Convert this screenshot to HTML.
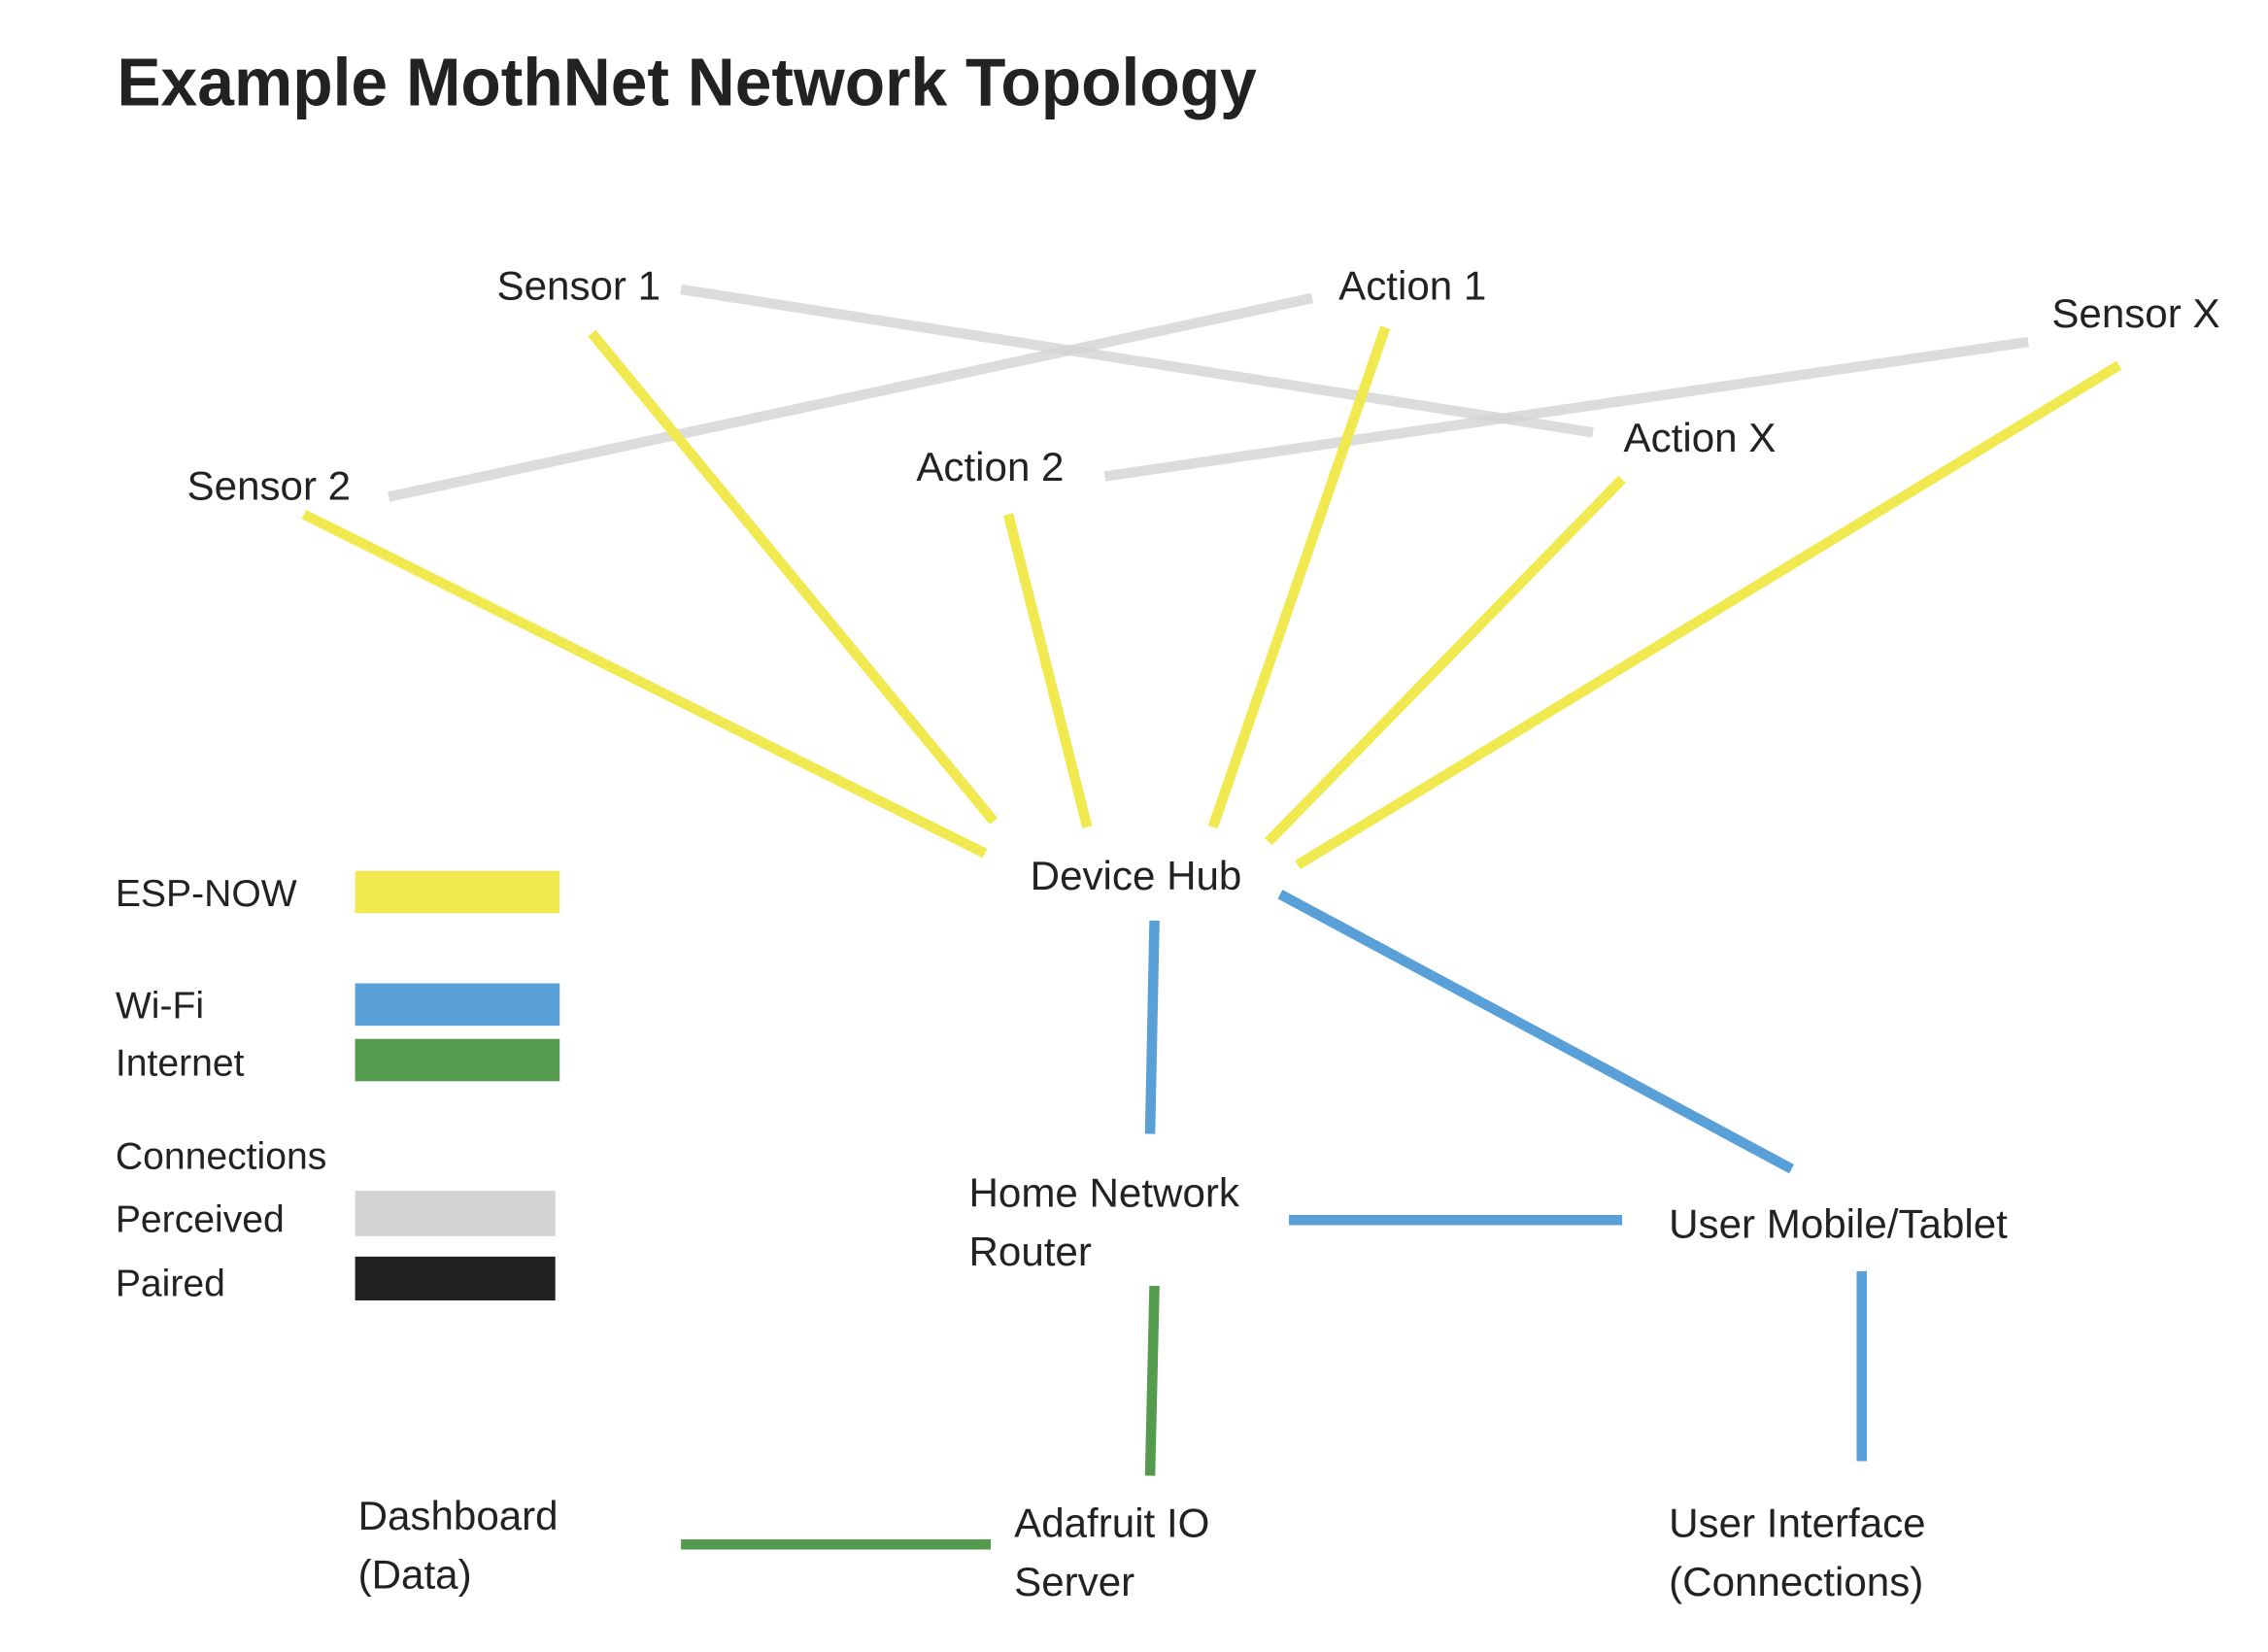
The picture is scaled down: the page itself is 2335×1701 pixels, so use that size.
<!DOCTYPE html>
<html><head><meta charset="utf-8"><style>html,body{margin:0;padding:0;background:#fff}svg{display:block}</style></head>
<body>
<svg width="2335" height="1701" viewBox="0 0 1552 1130.6" preserveAspectRatio="none" xmlns="http://www.w3.org/2000/svg" font-family="Liberation Sans, sans-serif">
<rect width="1552" height="1131" fill="#fff"/>
<text x="80" y="72" font-size="46" font-weight="bold" fill="#222" textLength="780" lengthAdjust="spacingAndGlyphs">Example MothNet Network Topology</text>
<g stroke="#d3d3d3" stroke-width="7" stroke-opacity="0.8">
<line x1="466" y1="198" x2="1090" y2="296"/>
<line x1="898" y1="204" x2="266" y2="340"/>
<line x1="1388" y1="234" x2="756" y2="326"/>
</g>
<g stroke="#f0e950" stroke-width="7">
<line x1="208" y1="352" x2="674" y2="584"/>
<line x1="405" y1="228" x2="680" y2="562"/>
<line x1="690" y1="352" x2="744" y2="566"/>
<line x1="948" y1="224" x2="830" y2="566"/>
<line x1="1110" y1="328" x2="868" y2="576"/>
<line x1="1450" y1="250" x2="888" y2="592"/>
</g>
<g stroke="#5aa0d8" stroke-width="7">
<line x1="790" y1="630" x2="787" y2="776"/>
<line x1="876" y1="612" x2="1226" y2="800"/>
<line x1="882" y1="835" x2="1110" y2="835"/>
<line x1="1274" y1="870" x2="1274" y2="1000"/>
</g>
<g stroke="#559b4e" stroke-width="7">
<line x1="790" y1="880" x2="787" y2="1010"/>
<line x1="466" y1="1057" x2="678" y2="1057"/>
</g>
<rect x="243" y="596" width="140" height="29" fill="#f0e950"/>
<rect x="243" y="673" width="140" height="29" fill="#5aa0d8"/>
<rect x="243" y="711" width="140" height="29" fill="#559b4e"/>
<rect x="243" y="815" width="137" height="31" fill="#d3d3d3"/>
<rect x="243" y="860" width="137" height="30" fill="#222"/>
<g font-size="28" fill="#222">
<text x="340" y="205">Sensor 1</text>
<text x="916" y="205">Action 1</text>
<text x="1404" y="224">Sensor X</text>
<text x="128" y="342">Sensor 2</text>
<text x="627" y="329">Action 2</text>
<text x="1111" y="309">Action X</text>
<text x="705" y="609">Device Hub</text>
<text x="663" y="826">Home Network</text>
<text x="663" y="866">Router</text>
<text x="1142" y="847">User Mobile/Tablet</text>
<text x="245" y="1047">Dashboard</text>
<text x="245" y="1087">(Data)</text>
<text x="694" y="1052">Adafruit IO</text>
<text x="694" y="1092">Server</text>
<text x="1142" y="1052">User Interface</text>
<text x="1142" y="1092">(Connections)</text>
</g>
<g font-size="26" fill="#222">
<text x="79" y="620">ESP-NOW</text>
<text x="79" y="697">Wi-Fi</text>
<text x="79" y="736">Internet</text>
<text x="79" y="800">Connections</text>
<text x="79" y="843">Perceived</text>
<text x="79" y="887">Paired</text>
</g>
</svg>
</body></html>
